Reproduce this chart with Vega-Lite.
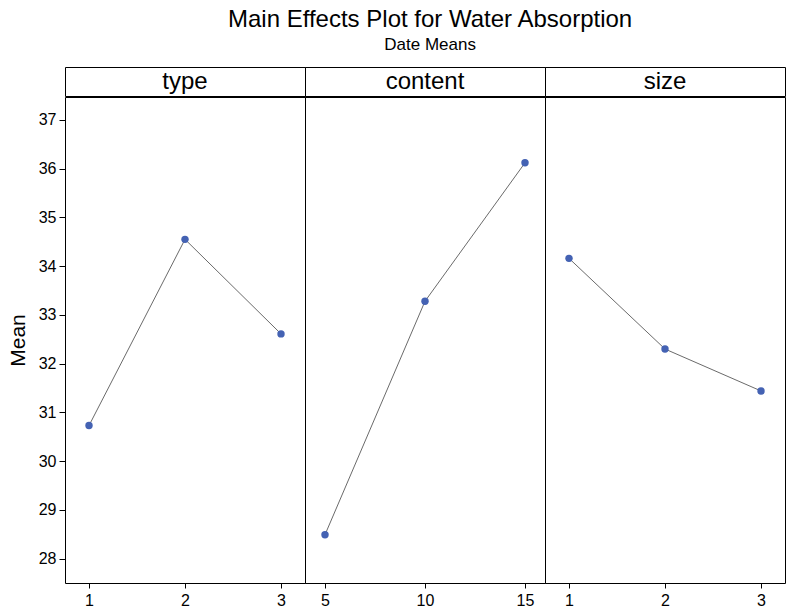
{
  "$schema": "https://vega.github.io/schema/vega-lite/v6.json",
  "background": "white",
  "padding": {"left": 6, "top": 7, "right": 6, "bottom": 4},
  "title": {
    "text": "Main Effects Plot for Water Absorption",
    "subtitle": "Date Means",
    "fontSize": 24,
    "subtitleFontSize": 17,
    "fontWeight": "normal",
    "anchor": "middle",
    "color": "black",
    "subtitleColor": "black",
    "subtitlePadding": 5,
    "offset": 14,
    "dx": 34
  },
  "datasets": {
    "means": [
      {"factor": "type", "level": 1, "mean": 30.73},
      {"factor": "type", "level": 2, "mean": 34.55},
      {"factor": "type", "level": 3, "mean": 32.61},
      {"factor": "content", "level": 5, "mean": 28.49},
      {"factor": "content", "level": 10, "mean": 33.28},
      {"factor": "content", "level": 15, "mean": 36.12},
      {"factor": "size", "level": 1, "mean": 34.16},
      {"factor": "size", "level": 2, "mean": 32.30},
      {"factor": "size", "level": 3, "mean": 31.44}
    ],
    "headers": [
      {"label": "type", "pos": 1},
      {"label": "content", "pos": 1},
      {"label": "size", "pos": 1}
    ]
  },
  "spacing": -3,
  "vconcat": [
    {
      "spacing": 0,
      "bounds": "flush",
      "hconcat": [
        {
          "width": 240, "height": 29,
          "view": {"stroke": "black", "strokeWidth": 1},
          "data": {"name": "headers"},
          "transform": [{"filter": "datum.label === 'type'"}],
          "mark": {"type": "text", "fontSize": 24, "color": "black", "baseline": "middle"},
          "encoding": {
            "x": {"field": "pos", "type": "quantitative", "scale": {"domain": [0, 2]}, "axis": null},
            "y": {"field": "pos", "type": "quantitative", "scale": {"domain": [0, 2]}, "axis": null},
            "text": {"field": "label"}
          }
        },
        {
          "width": 240, "height": 29,
          "view": {"stroke": "black", "strokeWidth": 1},
          "data": {"name": "headers"},
          "transform": [{"filter": "datum.label === 'content'"}],
          "mark": {"type": "text", "fontSize": 24, "color": "black", "baseline": "middle"},
          "encoding": {
            "x": {"field": "pos", "type": "quantitative", "scale": {"domain": [0, 2]}, "axis": null},
            "y": {"field": "pos", "type": "quantitative", "scale": {"domain": [0, 2]}, "axis": null},
            "text": {"field": "label"}
          }
        },
        {
          "width": 240, "height": 29,
          "view": {"stroke": "black", "strokeWidth": 1},
          "data": {"name": "headers"},
          "transform": [{"filter": "datum.label === 'size'"}],
          "mark": {"type": "text", "fontSize": 24, "color": "black", "baseline": "middle"},
          "encoding": {
            "x": {"field": "pos", "type": "quantitative", "scale": {"domain": [0, 2]}, "axis": null},
            "y": {"field": "pos", "type": "quantitative", "scale": {"domain": [0, 2]}, "axis": null},
            "text": {"field": "label"}
          }
        }
      ]
    },
    {
      "spacing": 0,
      "bounds": "flush",
      "hconcat": [
        {
          "width": 240, "height": 486,
          "data": {"name": "means"},
          "transform": [{"filter": "datum.factor === 'type'"}],
          "encoding": {
            "x": {"field": "level", "type": "quantitative", "scale": {"domain": [0.75, 3.25], "nice": false, "zero": false},
                  "axis": {"values": [1, 2, 3], "title": null}},
            "y": {"field": "mean", "type": "quantitative", "scale": {"domain": [27.5, 37.47], "nice": false, "zero": false},
                  "axis": {"values": [28, 29, 30, 31, 32, 33, 34, 35, 36, 37], "title": "Mean", "titleFontSize": 21, "titleFontWeight": "normal", "titlePadding": 10, "tickSize": 6, "labelPadding": 3}}
          },
          "layer": [
            {"mark": {"type": "line", "color": "#444444", "strokeWidth": 0.8}},
            {"mark": {"type": "point", "filled": true, "opacity": 1, "size": 55, "color": "#4462b3"}}
          ]
        },
        {
          "width": 240, "height": 486,
          "data": {"name": "means"},
          "transform": [{"filter": "datum.factor === 'content'"}],
          "encoding": {
            "x": {"field": "level", "type": "quantitative", "scale": {"domain": [4, 16], "nice": false, "zero": false},
                  "axis": {"values": [5, 10, 15], "title": null}},
            "y": {"field": "mean", "type": "quantitative", "scale": {"domain": [27.5, 37.47], "nice": false, "zero": false}, "axis": null}
          },
          "layer": [
            {"mark": {"type": "line", "color": "#444444", "strokeWidth": 0.8}},
            {"mark": {"type": "point", "filled": true, "opacity": 1, "size": 55, "color": "#4462b3"}}
          ]
        },
        {
          "width": 240, "height": 486,
          "data": {"name": "means"},
          "transform": [{"filter": "datum.factor === 'size'"}],
          "encoding": {
            "x": {"field": "level", "type": "quantitative", "scale": {"domain": [0.75, 3.25], "nice": false, "zero": false},
                  "axis": {"values": [1, 2, 3], "title": null}},
            "y": {"field": "mean", "type": "quantitative", "scale": {"domain": [27.5, 37.47], "nice": false, "zero": false}, "axis": null}
          },
          "layer": [
            {"mark": {"type": "line", "color": "#444444", "strokeWidth": 0.8}},
            {"mark": {"type": "point", "filled": true, "opacity": 1, "size": 55, "color": "#4462b3"}}
          ]
        }
      ]
    }
  ],
  "config": {
    "font": "Liberation Sans",
    "view": {"stroke": "black", "strokeWidth": 1},
    "axis": {
      "grid": false,
      "domain": false,
      "tickColor": "black",
      "tickSize": 5,
      "labelFontSize": 16,
      "labelColor": "black",
      "labelPadding": 4,
      "titleColor": "black"
    }
  }
}
